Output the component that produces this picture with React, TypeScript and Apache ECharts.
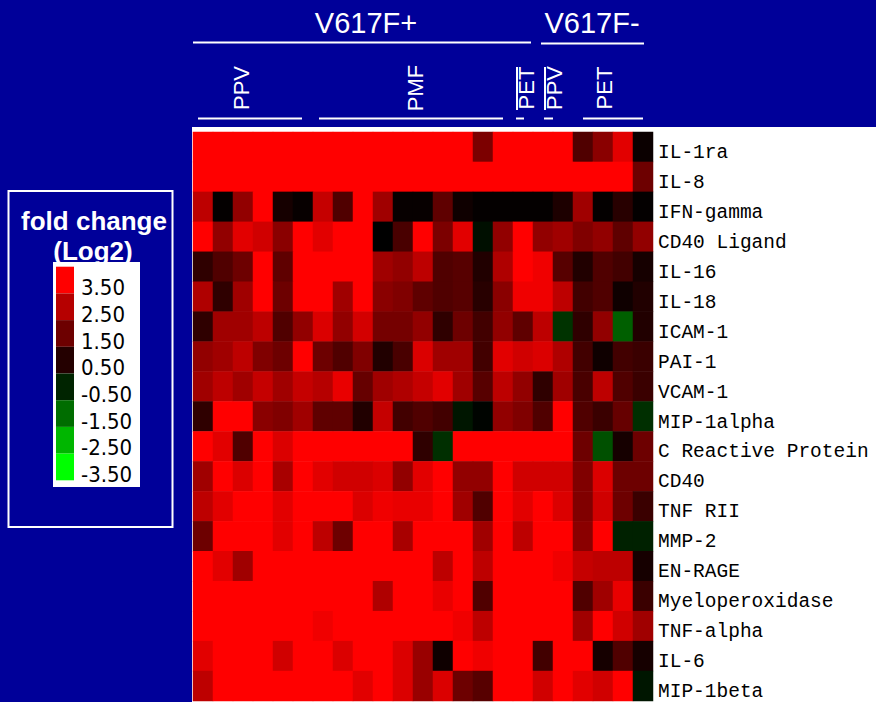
import React, { useEffect, useRef } from "react";
import * as echarts from "echarts";

// Cytokines (rows, top to bottom)
const cytokines = [
  "IL-1ra", "IL-8", "IFN-gamma", "CD40 Ligand", "IL-16", "IL-18", "ICAM-1",
  "PAI-1", "VCAM-1", "MIP-1alpha", "C Reactive Protein", "CD40", "TNF RII",
  "MMP-2", "EN-RAGE", "Myeloperoxidase", "TNF-alpha", "IL-6", "MIP-1beta",
];

// Patients (columns, left to right)
const patients = [
  "P1", "P2", "P3", "P4", "P5", "P6", "P7", "P8", "P9", "P10", "P11", "P12",
  "P13", "P14", "P15", "P16", "P17", "P18", "P19", "P20", "P21", "P22", "P23",
];

// Fold change (log2) per cytokine, one value per patient
const il1ra = [3.5, 3.5, 3.5, 3.5, 3.5, 3.5, 3.5, 3.5, 3.5, 3.5, 3.5, 3.5, 3.5, 3.5, 1.7, 3.5, 3.5, 3.5, 3.5, 1.1, 1.9, 3.1, 0.15];
const il8 = [3.5, 3.5, 3.5, 3.5, 3.5, 3.5, 3.5, 3.5, 3.5, 3.5, 3.5, 3.5, 3.5, 3.5, 3.5, 3.5, 3.5, 3.5, 3.5, 3.5, 3.5, 3.5, 1.5];
const ifnGamma = [2.6, 0.05, 2.0, 3.5, 0.3, 0.1, 2.7, 1.1, 3.5, 2.2, 0.1, 0.1, 1.3, 0.2, 0.05, 0.05, 0.05, 0.05, 0.4, 2.2, 0.05, 0.55, 0.05];
const cd40Ligand = [3.5, 2.0, 3.1, 2.85, 1.9, 3.5, 3.1, 3.5, 3.5, 0.0, 1.0, 3.5, 1.7, 3.1, -0.2, 2.0, 3.5, 2.0, 2.2, 1.75, 2.0, 1.3, 2.0];
const il16 = [0.65, 1.1, 1.5, 3.5, 1.3, 3.5, 3.5, 3.5, 3.5, 2.2, 2.0, 2.6, 1.1, 1.2, 0.45, 2.4, 3.5, 3.3, 1.2, 0.45, 1.1, 0.9, 0.3];
const il18 = [2.4, 0.65, 2.2, 3.5, 1.5, 3.5, 3.5, 2.2, 3.5, 1.9, 1.75, 1.3, 1.1, 1.2, 0.55, 1.9, 3.3, 3.3, 2.6, 0.9, 1.1, 0.2, 0.45];
const icam1 = [0.65, 2.2, 2.2, 2.6, 1.1, 2.0, 3.0, 2.0, 2.9, 1.6, 1.6, 2.0, 0.65, 1.5, 0.9, 2.0, 1.3, 2.6, -0.7, 0.65, 2.0, -1.3, 0.45];
const pai1 = [2.0, 2.2, 2.6, 1.75, 1.5, 3.5, 1.5, 1.1, 1.75, 0.45, 1.0, 3.0, 2.2, 2.2, 0.9, 3.1, 2.85, 3.0, 2.4, 0.9, 0.2, 0.9, 0.8];
const vcam1 = [2.2, 2.6, 2.2, 2.7, 2.2, 2.7, 2.5, 3.2, 1.4, 2.2, 2.4, 2.7, 3.1, 2.2, 1.2, 2.6, 2.0, 0.65, 2.2, 1.0, 2.6, 1.1, 0.8];
const mip1alpha = [0.65, 3.5, 3.5, 1.9, 1.75, 2.2, 1.3, 1.3, 0.45, 2.7, 0.9, 1.1, 0.9, -0.3, -0.05, 2.0, 1.75, 1.1, 3.5, 1.1, 0.8, 1.4, -0.65];
const crp = [3.5, 3.1, 1.1, 3.5, 3.0, 3.5, 3.5, 3.5, 3.5, 3.5, 3.5, 0.65, -0.65, 3.5, 3.5, 3.5, 3.5, 3.5, 3.5, 1.5, -1.1, 0.3, 1.5];
const cd40 = [2.2, 3.5, 3.0, 3.5, 2.3, 3.5, 3.1, 2.85, 2.85, 3.0, 2.0, 3.1, 3.5, 2.0, 2.0, 3.5, 2.85, 2.85, 2.85, 1.75, 3.0, 1.5, 1.5];
const tnfRii = [2.6, 3.1, 3.5, 3.5, 3.1, 3.5, 3.5, 3.5, 3.0, 3.3, 3.2, 3.2, 3.5, 2.2, 1.1, 3.5, 3.1, 3.5, 3.0, 1.75, 2.85, 1.5, 0.8];
const mmp2 = [1.5, 3.5, 3.5, 3.5, 3.1, 3.5, 2.6, 1.5, 3.5, 3.5, 2.3, 3.5, 3.5, 3.5, 2.2, 3.5, 2.6, 3.5, 3.5, 1.9, 3.5, -0.45, -0.45];
const enRage = [3.5, 3.1, 2.2, 3.5, 3.5, 3.5, 3.5, 3.5, 3.5, 3.5, 3.5, 3.5, 2.6, 3.5, 2.6, 3.5, 3.5, 3.5, 3.3, 2.7, 2.6, 2.6, 0.3];
const myeloperoxidase = [3.5, 3.5, 3.5, 3.5, 3.5, 3.5, 3.5, 3.5, 3.5, 2.4, 3.5, 3.5, 3.2, 3.5, 1.1, 3.5, 3.5, 3.5, 3.5, 1.1, 2.2, 3.2, 0.8];
const tnfAlpha = [3.5, 3.5, 3.5, 3.5, 3.5, 3.5, 3.3, 3.5, 3.5, 3.5, 3.5, 3.5, 3.5, 3.3, 2.6, 3.5, 3.5, 3.5, 3.5, 2.2, 3.5, 2.85, 2.2];
const il6 = [3.1, 3.5, 3.5, 3.5, 2.85, 3.5, 3.5, 3.0, 3.5, 3.5, 3.0, 2.1, 0.2, 3.5, 3.3, 3.5, 3.5, 0.9, 3.5, 3.5, 0.3, 1.1, 0.3];
const mip1beta = [2.6, 3.5, 3.5, 3.5, 3.5, 3.5, 3.5, 3.5, 3.1, 3.5, 3.0, 2.1, 3.0, 1.5, 1.2, 3.5, 3.5, 2.85, 3.5, 3.1, 2.85, 3.5, -0.3];

// Legend ticks
const legendTicks = [3.5, 2.5, 1.5, 0.5, -0.5, -1.5, -2.5, -3.5];

// Header groups
const mutationGroups = ["V617F+", "V617F-"];
const diseaseGroups = ["PPV", "PMF", "PET", "PPV", "PET"];

const BLUE = "#000099";

function valueColor(v: number): string {
  const t = Math.min(1, Math.abs(v) / 3.5);
  const c = Math.round(t * 255).toString(16).padStart(2, "0");
  return v >= 0 ? `#${c}0000` : `#00${c}00`;
}

export default function App() {
  const ref = useRef<HTMLDivElement>(null);

  useEffect(() => {
    if (!ref.current) return;
    const chart = echarts.init(ref.current, null, { renderer: "svg" });

    const matrix = [
      il1ra, il8, ifnGamma, cd40Ligand, il16, il18, icam1, pai1, vcam1, mip1alpha,
      crp, cd40, tnfRii, mmp2, enRage, myeloperoxidase, tnfAlpha, il6, mip1beta,
    ];
    const data: number[][] = [];
    matrix.forEach((row, y) => row.forEach((v, x) => data.push([x, y, v])));

    const headerFont = "Liberation Sans, Arial, sans-serif";
    const graphics: any[] = [];

    // white panel behind heatmap and labels
    graphics.push({
      type: "rect", z: 0, silent: true,
      shape: { x: 192, y: 127, width: 684, height: 575 },
      style: { fill: "#ffffff" },
    });

    // mutation group headers
    const mutPos = [
      { cx: 366, x1: 193, x2: 531, ly: 42.5 },
      { cx: 592, x1: 541, x2: 644, ly: 43.5 },
    ];
    mutationGroups.forEach((g, i) => {
      const p = mutPos[i];
      graphics.push({
        type: "text", z: 10, x: p.cx, y: 23,
        style: { text: g, fill: "#fff", font: `29px ${headerFont}`, align: "center", verticalAlign: "middle" },
      });
      graphics.push({
        type: "line", z: 10,
        shape: { x1: p.x1, y1: p.ly, x2: p.x2, y2: p.ly },
        style: { stroke: "#fff", lineWidth: 2 },
      });
    });

    // disease subgroups (rotated labels + underlines)
    const subPos = [
      { cx: 241, x1: 198, x2: 302, bar: false },
      { cx: 415.5, x1: 319, x2: 503, bar: false },
      { cx: 526.5, x1: 516, x2: 524, bar: 517 },
      { cx: 554.5, x1: 544, x2: 553, bar: 545 },
      { cx: 604, x1: 583, x2: 643, bar: false },
    ];
    diseaseGroups.forEach((g, i) => {
      const p = subPos[i];
      graphics.push({
        type: "text", z: 10, x: p.cx, y: 88, rotation: Math.PI / 2,
        style: { text: g, fill: "#fff", font: `22px ${headerFont}`, align: "center", verticalAlign: "middle" },
      });
      graphics.push({
        type: "line", z: 10,
        shape: { x1: p.x1, y1: 118.5, x2: p.x2, y2: 118.5 },
        style: { stroke: "#fff", lineWidth: 2 },
      });
      if (p.bar !== false) {
        graphics.push({
          type: "line", z: 10,
          shape: { x1: p.bar as number, y1: 67, x2: p.bar as number, y2: 110 },
          style: { stroke: "#fff", lineWidth: 2 },
        });
      }
    });

    // legend box
    graphics.push({
      type: "rect", z: 10,
      shape: { x: 8.5, y: 191, width: 164, height: 336 },
      style: { fill: "none", stroke: "#fff", lineWidth: 2 },
    });
    graphics.push({
      type: "text", z: 10, x: 94, y: 221,
      style: { text: "fold change", fill: "#fff", font: `bold 26px ${headerFont}`, align: "center", verticalAlign: "middle" },
    });
    graphics.push({
      type: "text", z: 10, x: 93, y: 251,
      style: { text: "(Log2)", fill: "#fff", font: `bold 26px ${headerFont}`, align: "center", verticalAlign: "middle" },
    });
    graphics.push({
      type: "rect", z: 11,
      shape: { x: 53, y: 262, width: 87, height: 225 },
      style: { fill: "#fff" },
    });
    const blockH = 26.7;
    legendTicks.forEach((v, i) => {
      const top = 266.7 + i * blockH;
      graphics.push({
        type: "rect", z: 12,
        shape: { x: 56, y: top, width: 18, height: blockH },
        style: { fill: valueColor(v) },
      });
      graphics.push({
        type: "text", z: 12, x: 81, y: top + 21,
        style: {
          text: v.toFixed(2), fill: "#000",
          font: `22px "Liberation Sans Narrow", "Arial Narrow", "DejaVu Sans Condensed", sans-serif`,
          align: "left", verticalAlign: "middle",
        },
      });
    });

    chart.setOption({
      animation: false,
      backgroundColor: BLUE,
      grid: { left: 193, top: 132, width: 460, height: 570, containLabel: false },
      xAxis: {
        type: "category",
        data: patients,
        show: false,
      },
      yAxis: {
        type: "category",
        data: cytokines,
        inverse: true,
        position: "right",
        axisLine: { show: false },
        axisTick: { show: false },
        splitLine: { show: false },
        axisLabel: {
          margin: 5,
          color: "#000",
          fontFamily: "Liberation Mono, DejaVu Sans Mono, monospace",
          fontSize: 19.5,
          verticalAlign: "top",
          lineHeight: 12,
        },
      },
      visualMap: {
        type: "continuous",
        show: false,
        min: -3.5,
        max: 3.5,
        dimension: 2,
        inRange: { color: ["#00ff00", "#000000", "#ff0000"] },
      },
      graphic: { elements: graphics },
      series: [
        {
          type: "heatmap",
          data,
          z: 5,
          itemStyle: { borderWidth: 0 },
          emphasis: { disabled: true },
        },
      ],
    });

    return () => chart.dispose();
  }, []);

  return (
    <div
      ref={ref}
      style={{ position: "fixed", left: 0, top: 0, width: 876, height: 702, background: BLUE }}
    />
  );
}
